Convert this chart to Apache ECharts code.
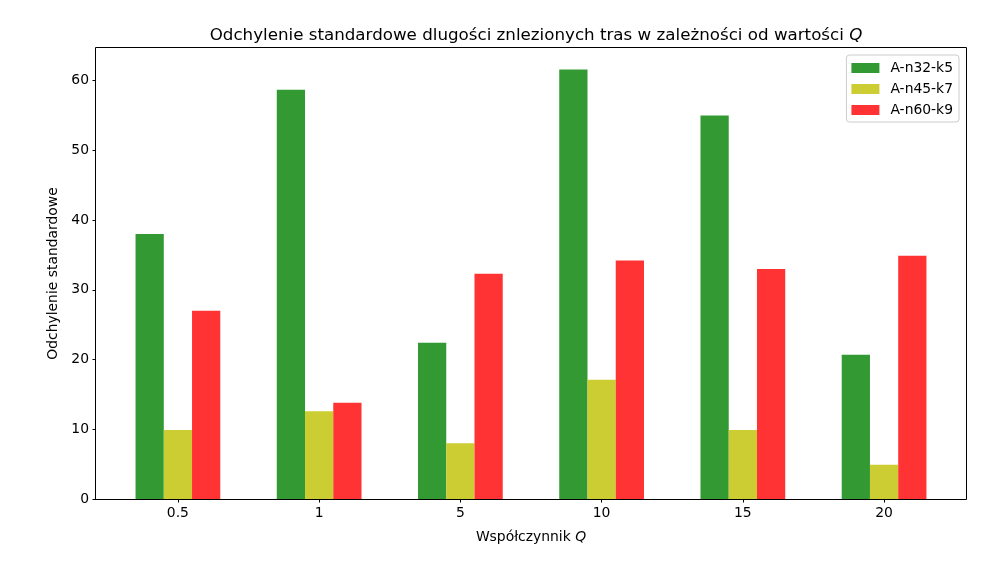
<!DOCTYPE html>
<html>
<head>
<meta charset="utf-8">
<script src="https://cdn.jsdelivr.net/npm/echarts@6/dist/echarts.min.js"></script>
<style>
  html, body { margin: 0; padding: 0; background: #fff; }
  #chart { width: 989px; height: 575px; }
</style>
</head>
<body>
<div id="chart"></div>
<script>
// values
const categories = ['0.5', '1', '5', '10', '15', '20'];
const seriesNames = ['A-n32-k5', 'A-n45-k7', 'A-n60-k9'];
const valsN32 = [38.0, 58.7, 22.4, 61.6, 55.0, 20.7];
const valsN45 = [9.9, 12.6, 8.0, 17.1, 9.9, 4.9];
const valsN60 = [27.0, 13.8, 32.3, 34.2, 33.0, 34.9];
const yTicks = [0, 10, 20, 30, 40, 50, 60];

const colors = ['#339933', '#cccc33', '#ff3333'];
const FONT = 'DejaVu Sans';

// plot frame (axes box) in pixels
const W = 989, H = 575;
const plotLeft = 96, plotRight = 966, plotTop = 48, plotBottom = 499;

// matplotlib-like x layout: bars of width 0.2 at offsets -0.2/0/+0.2, 5% margins
const n = categories.length;
const dataSpan = (n - 1) + 0.6;
const xMin = -0.3 - 0.05 * dataSpan;
const unitPx = (plotRight - plotLeft) / (dataSpan * 1.1);
const barGridLeft = plotLeft + (-0.5 - xMin) * unitPx;
const barGridWidth = n * unitPx;
const yMax = Math.max(...valsN32, ...valsN45, ...valsN60) * 1.05;

const chart = echarts.init(document.getElementById('chart'), null, { renderer: 'canvas' });

const option = {
  animation: false,
  backgroundColor: '#fff',
  textStyle: { fontFamily: FONT, color: '#000' },
  title: {
    text: 'Odchylenie standardowe dlugości znlezionych tras w zależności od wartości {i|Q}',
    left: (plotLeft + plotRight) / 2,
    textAlign: 'center',
    top: 22,
    textStyle: {
      fontFamily: FONT, fontSize: 16.7, fontWeight: 'normal', color: '#000',
      rich: { i: { fontFamily: FONT, fontSize: 16.7, fontStyle: 'italic', color: '#000' } }
    }
  },
  legend: {
    orient: 'vertical',
    right: W - 959,
    top: 55,
    data: seriesNames,
    itemWidth: 28,
    itemHeight: 10,
    itemGap: 7,
    padding: [6, 6, 5, 5],
    backgroundColor: 'rgba(255,255,255,0.8)',
    borderColor: '#cccccc',
    borderWidth: 1,
    borderRadius: 3,
    icon: 'rect',
    textStyle: { fontFamily: FONT, fontSize: 13.9, color: '#000', padding: [0, 0, 0, 6] }
  },
  grid: [
    {
      // half-pixel offsets keep the 1px frame crisp
      left: plotLeft - 0.5, right: W - plotRight - 0.5, top: plotTop - 0.5, bottom: H - plotBottom - 0.5,
      show: true, borderColor: '#000', borderWidth: 1, backgroundColor: 'transparent',
      outerBoundsMode: 'none'
    },
    {
      left: barGridLeft, width: barGridWidth, top: plotTop, bottom: H - plotBottom,
      outerBoundsMode: 'none'
    }
  ],
  xAxis: [
    { gridIndex: 0, type: 'value', show: false, min: 0, max: 1 },
    {
      gridIndex: 1,
      type: 'category',
      data: categories,
      boundaryGap: true,
      axisLine: { show: false },
      axisTick: { show: true, alignWithLabel: true, length: 3.5, lineStyle: { color: '#000', width: 1 } },
      axisLabel: { color: '#000', fontFamily: FONT, fontSize: 13.9, margin: 7 },
      splitLine: { show: false },
      name: 'Współczynnik {i|Q}',
      nameLocation: 'middle',
      nameGap: 31,
      nameTextStyle: {
        fontFamily: FONT, fontSize: 13.9, color: '#000',
        rich: { i: { fontFamily: FONT, fontSize: 13.9, fontStyle: 'italic', color: '#000' } }
      }
    }
  ],
  yAxis: [
    {
      gridIndex: 1,
      type: 'value',
      min: 0,
      max: yMax,
      offset: barGridLeft - plotLeft,
      axisLine: { show: false },
      axisTick: { show: true, length: 3.5, customValues: yTicks, lineStyle: { color: '#000', width: 1 } },
      axisLabel: { color: '#000', fontFamily: FONT, fontSize: 13.9, margin: 7, customValues: yTicks },
      splitLine: { show: false },
      name: 'Odchylenie standardowe',
      nameLocation: 'middle',
      nameGap: 34,
      nameRotate: 90,
      nameTextStyle: { fontFamily: FONT, fontSize: 13.9, color: '#000' }
    },
    { gridIndex: 0, type: 'value', min: 0, max: 1, show: false, splitLine: { show: false } }
  ],
  series: [valsN32, valsN45, valsN60].map((vals, i) => ({
    name: seriesNames[i],
    type: 'bar',
    xAxisIndex: 1,
    yAxisIndex: 0,
    data: vals,
    barWidth: unitPx * 0.2,
    barGap: '0%',
    itemStyle: { color: colors[i] },
    emphasis: { disabled: true }
  }))
};

chart.setOption(option);
</script>
</body>
</html>
